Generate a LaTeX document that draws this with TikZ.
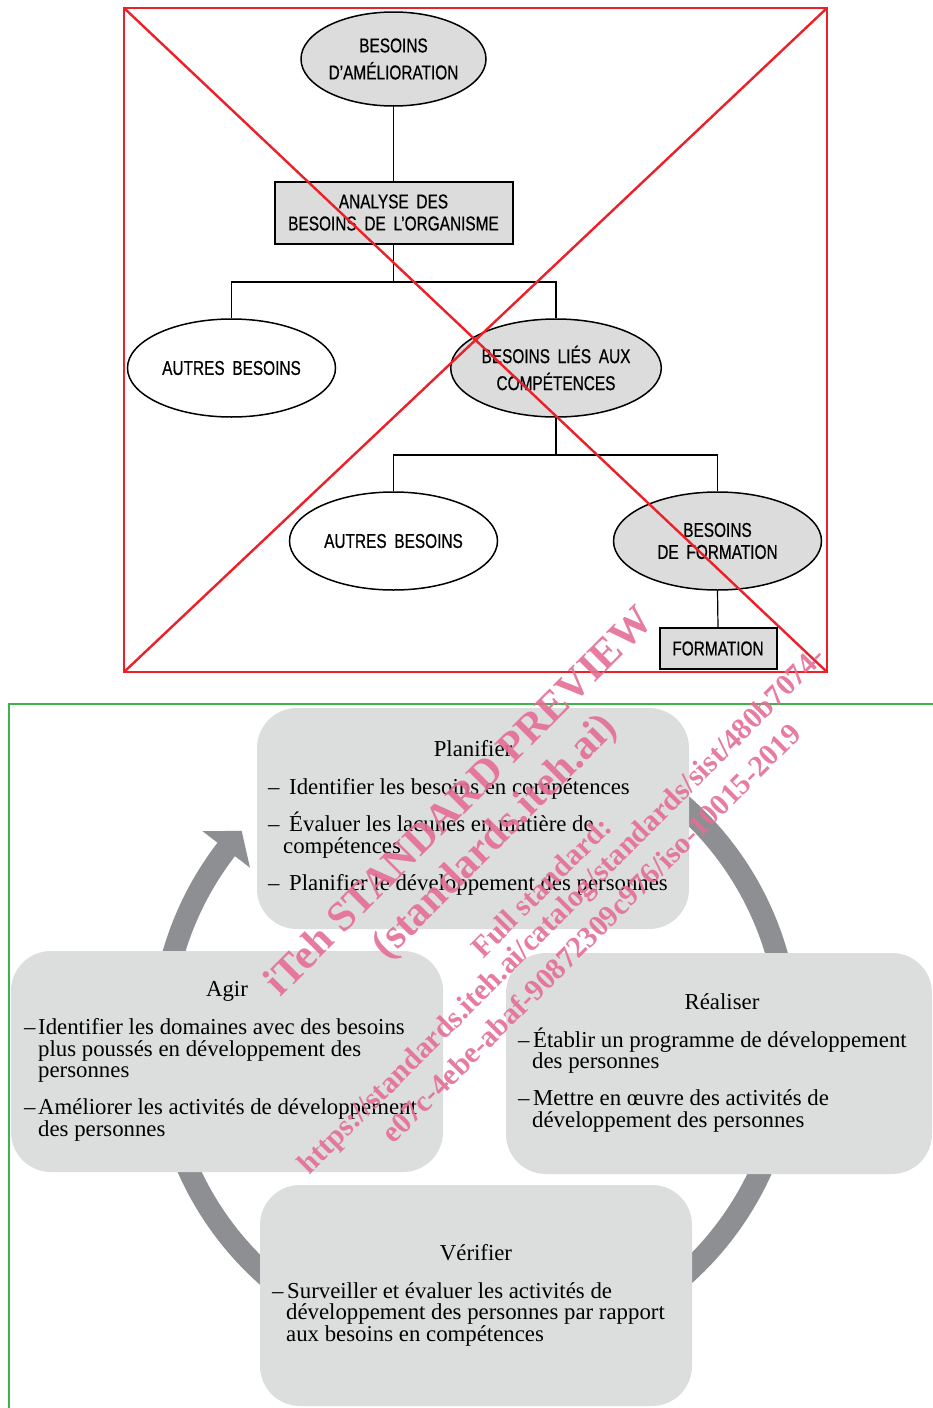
\documentclass[tikz,border=0pt]{standalone}
\usepackage{fontspec}
\setmainfont{Liberation Serif}
\newfontfamily\isofont[FakeStretch=0.77,WordSpace=1.8,FakeBold=0.6]{Liberation Sans}
\usetikzlibrary{shapes.geometric,calc}
\definecolor{isored}{RGB}{236,32,40}
\definecolor{isogreen}{RGB}{60,180,75}
\definecolor{boxgray}{RGB}{220,221,221}
\definecolor{ringgray}{RGB}{142,143,147}
\definecolor{hatch}{RGB}{220,220,220}
\definecolor{wmpink}{RGB}{228,110,150}
\tikzset{
  ell/.style={ellipse, draw, line width=1.5pt, inner sep=0pt, minimum width=208pt, minimum height=98pt, align=center, font=\isofont\fontsize{20}{27}\selectfont},
  shaded/.style={fill=hatch},
  plain/.style={fill=white},
  rectbox/.style={rectangle, draw, line width=2pt, fill=hatch, inner sep=0pt, align=center, font=\isofont\fontsize{20}{22}\selectfont},
  conn/.style={line width=1.2pt},
  redline/.style={draw=isored, line width=2.4pt},
  greenline/.style={draw=isogreen, line width=2pt},
  phase/.style={fill=boxgray, rounded corners=40pt, inner sep=0pt, minimum width=432pt, minimum height=221pt},
  title/.style={anchor=base, inner sep=0pt, font=\fontsize{22.8}{22}\selectfont},
  txt/.style={anchor=base west, inner sep=0pt, font=\fontsize{22.8}{22}\selectfont},
  wm/.style={text=wmpink, text opacity=0.9, rotate=45, inner sep=0pt, font=\bfseries\fontsize{30}{30}\selectfont},
  wmbig/.style={wm, font=\bfseries\fontsize{42}{42}\selectfont},
}
\begin{document}
\begin{tikzpicture}[x=1pt,y=1pt]
\useasboundingbox (0,0) rectangle (932,-1408);
\fill[white] (0,0) rectangle (932,-1408);

% ---------- upper figure ----------
\node[ell, shaded, minimum width=185pt, minimum height=94pt] (amel) at (393.5,-59) {BESOINS\\D’AMÉLIORATION};
\node[rectbox, minimum width=238pt, minimum height=62pt] (anal) at (393.5,-212.5) {ANALYSE DES\\BESOINS DE L’ORGANISME};
\node[ell, plain] (autres1) at (231.5,-368) {AUTRES BESOINS};
\node[ell, shaded] (comp) at (556,-368) {BESOINS LIÉS AUX\\COMPÉTENCES};
\node[ell, plain] (autres2) at (393.5,-541) {AUTRES BESOINS};
\node[ell, shaded, font=\isofont\fontsize{20}{22}\selectfont] (besf) at (717.5,-541) {BESOINS\\DE FORMATION};
\node[rectbox, minimum width=117pt, minimum height=41pt] (form) at (718,-648.5) {FORMATION};

\coordinate (j1) at (393.5,-282);
\coordinate (j2) at (556,-455);
\draw[conn] (amel.south) -- (anal.north);
\draw[conn] (anal.south) -- (j1);
\draw[conn] (autres1.north) |- (j1) -| (comp.north);
\draw[conn] (comp.south) -- (j2);
\draw[conn] (autres2.north) |- (j2) -| (besf.north);
\draw[conn] (besf.south) -- (form.north);

\coordinate (r1) at (124,-8);
\coordinate (r2) at (827,-672);
\draw[redline] (r1) rectangle (r2);
\draw[redline] (r1) -- (r2);
\draw[redline] (r1 -| r2) -- (r2 -| r1);

% ---------- lower figure ----------
\coordinate (g1) at (9,-1410);
\coordinate (g2) at (9,-704);
\coordinate (g3) at (934,-704);
\draw[greenline] (g1) -- (g2) -- (g3);

\coordinate (C) at (475,-1041);
\fill[ringgray] ($(C)+(60:325)$) arc[start angle=60, end angle=-217.6, radius=325]
  -- ($(C)+(142.4:344)$) -- ($(C)+(138:314)$) -- ($(C)+(142.4:284)$)
  -- ($(C)+(142.4:303)$) arc[start angle=142.4, end angle=420, radius=303] -- cycle;

\node[phase] (plan) at (473,-818.5) {};
\node[phase] (agir) at (227,-1061.5) {};
\node[phase, minimum width=426pt] (real) at (719,-1063.5) {};
\node[phase] (verif) at (476,-1295.5) {};

% Planifier
\node[title] (pt) at (473,-756) {Planifier};
\node[txt] (pd1) at (268,-794) {–};
\node[txt] (p1) at (289,-794) {Identifier les besoins en compétences};
\node[txt] (pd2) at (268,-831) {–};
\node[txt] (p2a) at (289,-831) {Évaluer les lacunes en matière de};
\node[txt] (p2b) at (283,-853) {compétences};
\node[txt] (pd3) at (268,-890) {–};
\node[txt] (p3) at (289,-890) {Planifier le développement des personnes};

% Agir
\node[title] (at) at (227,-996) {Agir};
\node[txt] (ad1) at (24,-1034) {–};
\node[txt] (a1a) at (38,-1034) {Identifier les domaines avec des besoins};
\node[txt] (a1b) at (38,-1056) {plus poussés en développement des};
\node[txt] (a1c) at (38,-1077) {personnes};
\node[txt] (ad2) at (24,-1114) {–};
\node[txt] (a2a) at (38,-1114) {Améliorer les activités de développement};
\node[txt] (a2b) at (38,-1136) {des personnes};

% Réaliser
\node[title] (rt) at (722,-1009) {Réaliser};
\node[txt] (rd1) at (518,-1047) {–};
\node[txt] (r1a) at (533,-1047) {Établir un programme de développement};
\node[txt] (r1b) at (532,-1068) {des personnes};
\node[txt] (rd2) at (518,-1105) {–};
\node[txt] (r2a) at (533,-1105) {Mettre en œuvre des activités de};
\node[txt] (r2b) at (532,-1127) {développement des personnes};

% Vérifier
\node[title] (vt) at (476,-1260) {Vérifier};
\node[txt] (vd1) at (272,-1298) {–};
\node[txt] (v1a) at (287,-1298) {Surveiller et évaluer les activités de};
\node[txt] (v1b) at (286,-1319) {développement des personnes par rapport};
\node[txt] (v1c) at (286,-1341) {aux besoins en compétences};

% ---------- watermark ----------
\node[wmbig] (w1) at (458,-800) {iTeh STANDARD PREVIEW};
\node[wmbig] (w2) at (496,-838) {(standards.iteh.ai)};
\node[wm] (w3) at (541,-887) {Full standard:};
\node[wm] (w4) at (563,-912) {https://standards.iteh.ai/catalog/standards/sist/480b7074-};
\node[wm] (w5) at (591,-933) {e07c-4ebe-abaf-90872309c976/iso-10015-2019};
\end{tikzpicture}
\end{document}
